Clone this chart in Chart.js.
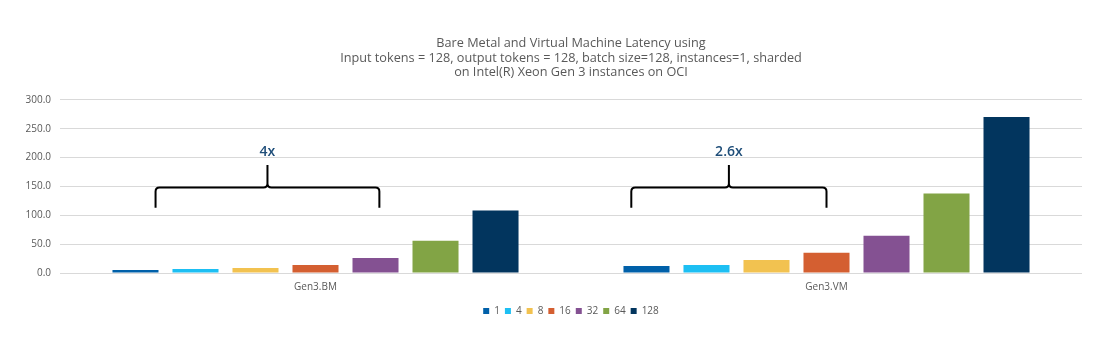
<!DOCTYPE html>
<html>
<head>
<meta charset="utf-8">
<script src="https://cdn.jsdelivr.net/npm/chart.js@4"></script>
<style>
  html, body { margin: 0; padding: 0; background: #ffffff; }
  #wrap { width: 1107px; height: 348px; position: relative; }
</style>
</head>
<body>
<div id="wrap"><canvas id="c" width="1107" height="348"></canvas></div>
<script>
// ---- Data ----
const categories = ["Gen3.BM", "Gen3.VM"];
const seriesNames = ["1", "4", "8", "16", "32", "64", "128"];
const seriesColors = ["#0060A9", "#1DBFF3", "#F2C250", "#D45F31", "#845192", "#82A445", "#02355E"];
const s1   = [5.2, 12.2];
const s4   = [7.0, 14.0];
const s8   = [8.7, 22.7];
const s16  = [14.0, 34.9];
const s32  = [26.2, 64.5];
const s64  = [55.8, 137.8];
const s128 = [108.1, 270.3];
const seriesValues = [s1, s4, s8, s16, s32, s64, s128];
const titleLines = [
  "Bare Metal and Virtual Machine Latency using",
  "Input tokens = 128, output tokens = 128, batch size=128, instances=1, sharded",
  "on Intel(R) Xeon Gen 3 instances on OCI"
];
// annotation braces: category index, span (fraction of category width from its centre), label
const braceCategory = [0, 1];
const braceStart = [-0.313, -0.382];
const braceEnd = [0.125, 0.0];
const braceLabels = ["4x", "2.6x"];
const braceBaseValue = 113;   // bottom of brace legs (axis value)
const braceLineValue = 148;   // horizontal bar of brace
const braceTipValue = 187;    // tip of brace
const braceTextValue = 209;   // label centre

const FONT = "'Open Sans', 'DejaVu Sans', sans-serif";

const bracePlugin = {
  id: 'braces',
  afterDatasetsDraw(chart) {
    const ctx = chart.ctx;
    const xs = chart.scales.x, ys = chart.scales.y;
    const catW = xs.width / categories.length;
    ctx.save();
    for (let i = 0; i < braceCategory.length; i++) {
      const c = xs.getPixelForValue(braceCategory[i]);
      const L = c + braceStart[i] * catW;
      const R = c + braceEnd[i] * catW;
      const M = (L + R) / 2;
      const yb = ys.getPixelForValue(braceBaseValue);
      const yh = ys.getPixelForValue(braceLineValue);
      const yt = ys.getPixelForValue(braceTipValue);
      const r = 4;
      ctx.strokeStyle = '#000000';
      ctx.lineWidth = 2;
      ctx.lineJoin = 'round';
      ctx.beginPath();
      ctx.moveTo(L, yb);
      ctx.lineTo(L, yh + r);
      ctx.quadraticCurveTo(L, yh, L + r, yh);
      ctx.lineTo(M - r, yh);
      ctx.quadraticCurveTo(M, yh, M, yh - r);
      ctx.lineTo(M, yt);
      ctx.moveTo(M, yt);
      ctx.lineTo(M, yh - r);
      ctx.quadraticCurveTo(M, yh, M + r, yh);
      ctx.lineTo(R - r, yh);
      ctx.quadraticCurveTo(R, yh, R, yh + r);
      ctx.lineTo(R, yb);
      ctx.stroke();
      ctx.fillStyle = '#1F4E79';
      ctx.font = "600 14px " + FONT;
      ctx.textAlign = 'center';
      ctx.textBaseline = 'middle';
      ctx.fillText(braceLabels[i], M, ys.getPixelForValue(braceTextValue));
    }
    ctx.restore();
  }
};

new Chart(document.getElementById('c'), {
  type: 'bar',
  data: {
    labels: categories,
    datasets: seriesNames.map((n, i) => ({
      label: n,
      data: seriesValues[i],
      backgroundColor: seriesColors[i],
      borderWidth: 0,
      categoryPercentage: 0.822,
      barPercentage: 0.767
    }))
  },
  options: {
    responsive: false,
    animation: false,
    devicePixelRatio: 1,
    layout: { padding: { top: 36, right: 25, left: 0, bottom: 22 } },
    plugins: {
      title: {
        display: true,
        fullSize: false,
        text: titleLines,
        color: '#595959',
        font: { family: FONT, size: 12.7, weight: 'normal', lineHeight: 1.15 },
        padding: { top: 0, bottom: 20 }
      },
      legend: {
        position: 'bottom',
        fullSize: false,
        labels: {
          boxWidth: 6, boxHeight: 6,
          color: '#595959',
          font: { family: FONT, size: 10 },
          padding: 5
        }
      },
      tooltip: { enabled: false }
    },
    scales: {
      x: {
        grid: { display: false, drawTicks: false },
        border: { display: false },
        ticks: { color: '#595959', font: { family: FONT, size: 10 }, padding: 8 }
      },
      y: {
        min: 0, max: 300,
        afterFit(scale) { scale.width = 60; },
        grid: { color: '#D9D9D9', lineWidth: 1, drawTicks: false },
        border: { display: false },
        ticks: {
          stepSize: 50,
          color: '#595959',
          font: { family: FONT, size: 10 },
          padding: 9,
          callback: v => Number(v).toFixed(1)
        }
      }
    }
  },
  plugins: [bracePlugin]
});
</script>
</body>
</html>
